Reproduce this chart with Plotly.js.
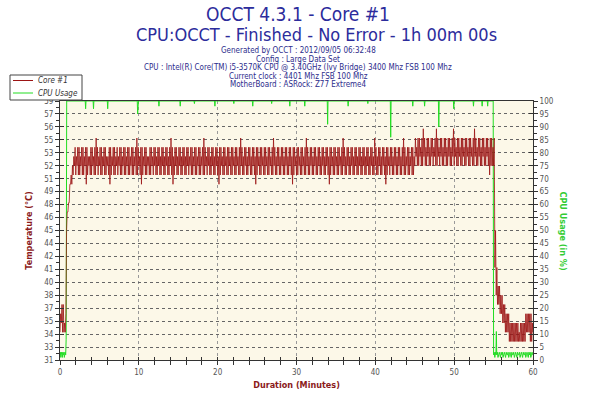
<!DOCTYPE html>
<html>
<head>
<meta charset="utf-8">
<script src="https://cdn.plot.ly/plotly-3.0.1.min.js"></script>
<style>html,body{margin:0;padding:0;background:#fff;}#chart{width:596px;height:397px;}</style>
</head>
<body>
<div id="chart"></div>
<script>
// ---- data ----
const titleText = 'OCCT 4.3.1 - Core #1';
const subtitleText = 'CPU:OCCT - Finished - No Error - 1h 00m 00s';
const infoLines = [
  'Generated by OCCT : 2012/09/05 06:32:48',
  'Config : Large Data Set',
  'CPU : Intel(R) Core(TM) i5-3570K CPU @ 3.40GHz (Ivy Bridge) 3400 Mhz FSB 100 Mhz',
  'Current clock : 4401 Mhz FSB 100 Mhz',
  'MotherBoard : ASRock: Z77 Extreme4'
];
const seriesNames = ['Core #1', 'CPU Usage'];
const tempTickText = ['31','33','34','35','37','38','40','41','42','44','45','46','48','49','51','52','53','55','56','57','59'];
const xTitle = 'Duration (Minutes)';
const yTitleLeft = 'Temperature (°C)';
const yTitleRight = 'CPU Usage (in %)';

// Core #1 temperature (°C): highest and lowest reading in each 10-second window, 0 to 60 min
const sampleMinutes = 10 / 60;
const coreTempHigh = [
  36,37,37,35,36,47,48,50,51,52,53,54,
  53,54,54,53,54,54,53,54,54,53,53,54,54,53,54,55,54,53,54,54,
  53,54,54,53,53,54,54,53,54,54,53,54,53,54,54,53,54,54,53,54,
  54,53,54,54,53,54,55,54,53,54,54,53,54,54,53,53,54,54,53,54,
  54,53,54,54,53,54,54,53,54,54,53,54,55,54,53,54,54,53,54,54,
  53,54,54,53,54,54,53,54,54,53,54,54,53,54,54,53,54,55,54,53,
  54,54,53,54,54,53,54,54,53,54,54,53,54,54,53,54,54,53,54,54,
  53,54,54,53,54,55,54,53,54,54,53,54,54,53,54,54,53,54,54,53,
  54,54,53,54,54,53,54,54,53,54,55,54,53,54,54,53,54,54,53,54,
  54,53,54,54,53,54,54,53,54,54,53,54,54,53,54,55,54,53,54,54,
  53,54,54,53,54,54,53,54,54,53,54,54,53,54,54,53,54,54,53,54,
  54,53,54,55,54,53,54,54,53,54,54,53,54,54,53,54,54,53,54,54,
  53,54,54,53,54,54,53,55,54,53,54,54,53,54,54,53,54,54,53,54,
  54,53,54,54,53,54,54,53,54,55,54,53,54,54,53,54,54,53,
  55,54,55,55,54,55,56,55,54,55,55,54,55,55,54,55,56,55,54,55,
  55,54,55,55,54,55,55,54,55,56,55,54,55,55,54,55,55,54,55,55,
  54,55,55,54,55,56,55,54,55,55,54,55,55,54,55,55,54,55,55,54,
  55,
  45,41,39,39,38,38,37,37,36,36,36,35,35,35,35,35,35,35,34,35,
  35,35,35,36,36,36,36,36,35,36
];
const coreTempLow = [
  34,35,34,34,34,45,47,48,50,50,51,52,
  51,52,51,51,52,51,51,52,50,51,52,51,51,52,51,51,52,51,52,51,
  51,52,51,51,52,51,50,51,52,51,51,52,51,52,51,51,52,51,51,52,
  51,51,52,51,51,52,51,51,52,51,50,51,52,51,51,52,51,51,52,51,
  52,51,51,52,51,51,52,51,51,52,51,51,52,51,50,51,52,51,51,52,
  51,51,52,51,51,52,51,52,51,51,52,51,51,52,51,51,52,51,51,52,
  51,52,51,51,52,51,51,52,51,50,51,52,51,51,52,51,51,52,51,51,
  52,51,51,52,51,51,52,51,51,52,51,51,52,51,51,52,51,50,51,52,
  51,51,52,51,51,52,51,51,52,51,51,52,51,51,52,51,51,52,51,51,
  52,51,51,52,51,50,51,52,51,51,52,51,51,52,51,51,52,51,51,52,
  51,51,52,51,51,52,51,51,52,51,51,52,51,50,51,52,51,51,52,51,
  51,52,51,51,52,51,51,52,51,51,52,51,51,52,51,51,52,51,51,52,
  51,51,52,51,51,52,51,51,52,51,51,52,51,51,52,51,50,51,52,51,
  52,51,51,52,51,51,52,51,51,52,51,51,52,51,51,52,51,51,
  52,53,52,52,53,52,52,53,52,52,53,52,52,53,52,53,52,52,53,52,
  53,52,52,53,52,52,53,52,52,53,52,53,52,52,53,52,52,53,52,52,
  53,52,52,53,52,52,53,52,52,53,52,52,53,52,52,53,52,51,52,52,
  52,
  41,38,37,37,36,36,35,35,34,34,34,33,33,33,33,33,33,33,33,33,
  33,33,33,33,34,34,34,33,33,34
];

// CPU usage (%): time (min) and value
const cpuMinutes = [
  0,0.05,0.1,0.15,0.2,0.25,0.3,0.35,0.4,0.45,0.5,0.55,0.6,0.65,0.72,0.78,0.85,
  3.2,3.25,3.3, 4.2,4.25,4.3, 6.0,6.05,6.1, 9.8,9.85,9.95,
  12.5,12.55,12.6, 15.2,15.25,15.3, 17.0,17.05,17.1, 19.6,19.65,19.7,
  22.0,22.05,22.1, 24.4,24.45,24.5, 26.8,26.85,26.9, 29.1,29.15,29.2,
  31.0,31.05,31.1, 33.9,33.95,34.0, 36.5,36.55,36.6, 39.0,39.05,39.1,
  41.9,41.95,42.0, 44.7,44.75,44.8, 46.2,46.25,46.3, 48.0,48.05,48.1,
  49.9,49.95,50.0, 52.4,52.45,52.5, 53.5,53.55,53.6, 54.2,54.25,54.3,
  54.95,55.0,55.08,55.16,55.24,55.3,55.35,55.4,55.48,55.56,55.64,55.72,55.8,55.88,55.96,
  56.04,56.12,56.2,56.28,56.36,56.44,56.52,56.6,56.68,56.76,56.84,56.92,57.0,57.08,57.16,
  57.24,57.32,57.4,57.48,57.56,57.64,57.72,57.8,57.88,57.96,58.04,58.12,58.2,58.28,58.36,
  58.44,58.52,58.6,58.68,58.76,58.84,58.92,59.0,59.08,59.16,59.24,59.32,59.4,59.48,59.56,
  59.64,59.72,59.8,59.88,59.96,60
];
const cpuUsage = [
  2,3,1,2,3,2,1,3,2,2,3,1,2,3,2,8,100,
  100,97,100, 100,97,100, 100,97,100, 100,95,100,
  100,98,100, 100,98,100, 100,99,100, 100,98,100,
  100,99,100, 100,98,100, 100,99,100, 100,98,100,
  100,98,100, 100,91,100, 100,98,100, 100,99,100,
  100,86,100, 100,98,100, 100,98,100, 100,90,100,
  100,97,100, 100,98,100, 100,98,100, 100,98,100,
  100,2,3,1,3,2,11,2,3,1,2,3,2,1,3,
  2,3,1,2,3,2,1,3,2,2,3,1,2,3,2,
  1,3,2,2,3,1,2,3,2,1,3,2,2,3,1,
  2,3,2,1,3,2,2,3,1,2,3,2,1,3,2,
  3,1,2,3,2,2
];

// ---- build ----
const FONT = '"DejaVu Sans Condensed", "Liberation Sans", Arial, sans-serif';
const tempMin = 31, tempMax = 59;
const tempTickVals = tempTickText.map((_, i) => tempMin + i * (tempMax - tempMin) / (tempTickText.length - 1));

// each 10-s window is drawn as a stroke from its lowest to its highest reading
const nT = Math.min(coreTempHigh.length, coreTempLow.length);
const tempX = [], tempY = [];
for (let i = 0; i < nT; i++) {
  tempX.push(i * sampleMinutes, (i + 0.5) * sampleMinutes);
  tempY.push(coreTempLow[i], coreTempHigh[i]);
}

const W = 596, H = 397, M = {l: 60, r: 63, t: 101, b: 37};
const PW = W - M.l - M.r, PH = H - M.t - M.b;
const px = v => (v - M.l) / PW;        // page pixel x -> paper x
const py = v => (H - M.b - v) / PH;    // page pixel y -> paper y

const red = '#9c1414';
const green = '#22dd22';
const axisCol = '#333333';
const tickFont = {family: FONT, size: 8, color: '#555555'};

const data = [
  {x: tempX, y: tempY, name: seriesNames[0], type: 'scatter', mode: 'lines',
   line: {color: red, width: 0.8, shape: 'linear', simplify: false}, xaxis: 'x', yaxis: 'y2', hoverinfo: 'skip'},
  {x: cpuMinutes, y: cpuUsage, name: seriesNames[1], type: 'scatter', mode: 'lines',
   line: {color: green, width: 1, simplify: false}, xaxis: 'x', yaxis: 'y', hoverinfo: 'skip'},
  {x: [null], y: [null], xaxis: 'x2', yaxis: 'y', showlegend: false, hoverinfo: 'skip'},
  {x: [null], y: [null], xaxis: 'x', yaxis: 'y3', showlegend: false, hoverinfo: 'skip'},
  {x: [null], y: [null], xaxis: 'x', yaxis: 'y4', showlegend: false, hoverinfo: 'skip'}
];

const titleBlue = '#2c2c9c';
const annotations = [
  {text: subtitleText, xref: 'paper', yref: 'paper', x: px(316), y: py(34), xanchor: 'center', yanchor: 'middle',
   showarrow: false, font: {family: FONT, size: 18, color: titleBlue}},
  {text: '<b>' + yTitleRight + '</b>', xref: 'paper', yref: 'paper', x: px(563), y: 0.5, xanchor: 'center', yanchor: 'middle',
   textangle: 90, showarrow: false, font: {family: FONT, size: 9, color: '#33cc33'}},
  // legend texts
  {text: '<i>' + seriesNames[0] + '</i>', xref: 'paper', yref: 'paper', x: px(36), y: py(80.5), xanchor: 'left', yanchor: 'middle',
   showarrow: false, font: {family: FONT, size: 8, color: '#333333'}},
  {text: '<i>' + seriesNames[1] + '</i>', xref: 'paper', yref: 'paper', x: px(36), y: py(93), xanchor: 'left', yanchor: 'middle',
   showarrow: false, font: {family: FONT, size: 8, color: '#333333'}}
];
const infoPx = [50.5, 59, 67.5, 76, 84.5];
infoLines.forEach((t, i) => annotations.push({
  text: t, xref: 'paper', yref: 'paper', x: px(298), y: py(infoPx[i]), xanchor: 'center', yanchor: 'middle',
  showarrow: false, font: {family: FONT, size: 8, color: '#2c2c8c'}
}));

const shapes = [
  {type: 'rect', xref: 'paper', yref: 'paper', x0: px(10), x1: px(82), y0: py(100), y1: py(75),
   line: {color: '#444444', width: 1}, fillcolor: '#ffffff', layer: 'above'},
  {type: 'line', xref: 'paper', yref: 'paper', x0: px(13), x1: px(33), y0: py(80.5), y1: py(80.5),
   line: {color: red, width: 1}, layer: 'above'},
  {type: 'line', xref: 'paper', yref: 'paper', x0: px(13), x1: px(33), y0: py(93), y1: py(93),
   line: {color: green, width: 1}, layer: 'above'}
];

const layout = {
  width: W, height: H,
  margin: {l: M.l, r: M.r, t: M.t, b: M.b, pad: 0},
  paper_bgcolor: '#ffffff', plot_bgcolor: '#fcf8e8',
  font: {family: FONT, size: 8, color: '#555555'},
  title: {text: titleText, x: 0.5, xref: 'container', y: 1 - 14 / H, yref: 'container',
          xanchor: 'center', yanchor: 'middle', font: {family: FONT, size: 19, color: titleBlue}},
  showlegend: false,
  xaxis: {range: [0, 60], tickmode: 'linear', tick0: 0, dtick: 10, ticks: 'outside', ticklen: 4,
          tickcolor: axisCol, tickfont: tickFont, showline: true, linecolor: axisCol, mirror: true,
          showgrid: true, gridcolor: '#9a9a9a', griddash: 'dot', zeroline: false,
          minor: {tickmode: 'linear', tick0: 0, dtick: 2, ticks: 'outside', ticklen: 4, tickcolor: axisCol, showgrid: false},
          title: {text: '<b>' + xTitle + '</b>', font: {family: FONT, size: 9, color: '#8b1a1a'}, standoff: 6}},
  xaxis2: {range: [0, 60], overlaying: 'x', anchor: 'y', side: 'bottom', tickmode: 'linear', tick0: 0, dtick: 2,
           ticks: 'inside', ticklen: 3, tickcolor: axisCol, showticklabels: false, showgrid: false,
           showline: false, zeroline: false},
  yaxis: {range: [0, 100], side: 'right', tickmode: 'linear', tick0: 0, dtick: 5, ticks: 'outside', ticklen: 4,
          tickcolor: axisCol, tickfont: tickFont, showline: true, linecolor: axisCol,
          showgrid: true, gridcolor: '#666666', griddash: 'dot', zeroline: false,
          minor: {tickmode: 'linear', tick0: 0, dtick: 2.5, ticks: 'outside', ticklen: 3, tickcolor: axisCol, showgrid: false}},
  yaxis2: {range: [tempMin, tempMax], overlaying: 'y', side: 'left', anchor: 'x', tickmode: 'array',
           tickvals: tempTickVals, ticktext: tempTickText, ticks: 'outside', ticklen: 4, tickcolor: axisCol,
           tickfont: tickFont, showline: true, linecolor: axisCol, showgrid: false, zeroline: false,
           minor: {tickmode: 'linear', tick0: tempMin, dtick: (tempMax - tempMin) / 40, ticks: 'outside', ticklen: 3, tickcolor: axisCol, showgrid: false},
           title: {text: '<b>' + yTitleLeft + '</b>', font: {family: FONT, size: 9, color: '#8b1a1a'}, standoff: 10}},
  yaxis3: {range: [0, 100], overlaying: 'y', side: 'left', anchor: 'x', tickmode: 'linear', tick0: 0, dtick: 5,
           ticks: 'inside', ticklen: 4, tickcolor: axisCol, showticklabels: false, showgrid: false, showline: false, zeroline: false},
  yaxis4: {range: [0, 100], overlaying: 'y', side: 'right', anchor: 'x', tickmode: 'linear', tick0: 0, dtick: 5,
           ticks: 'inside', ticklen: 4, tickcolor: axisCol, showticklabels: false, showgrid: false, showline: false, zeroline: false},
  annotations: annotations,
  shapes: shapes
};

Plotly.newPlot('chart', data, layout, {displayModeBar: false, staticPlot: true});
</script>
</body>
</html>
